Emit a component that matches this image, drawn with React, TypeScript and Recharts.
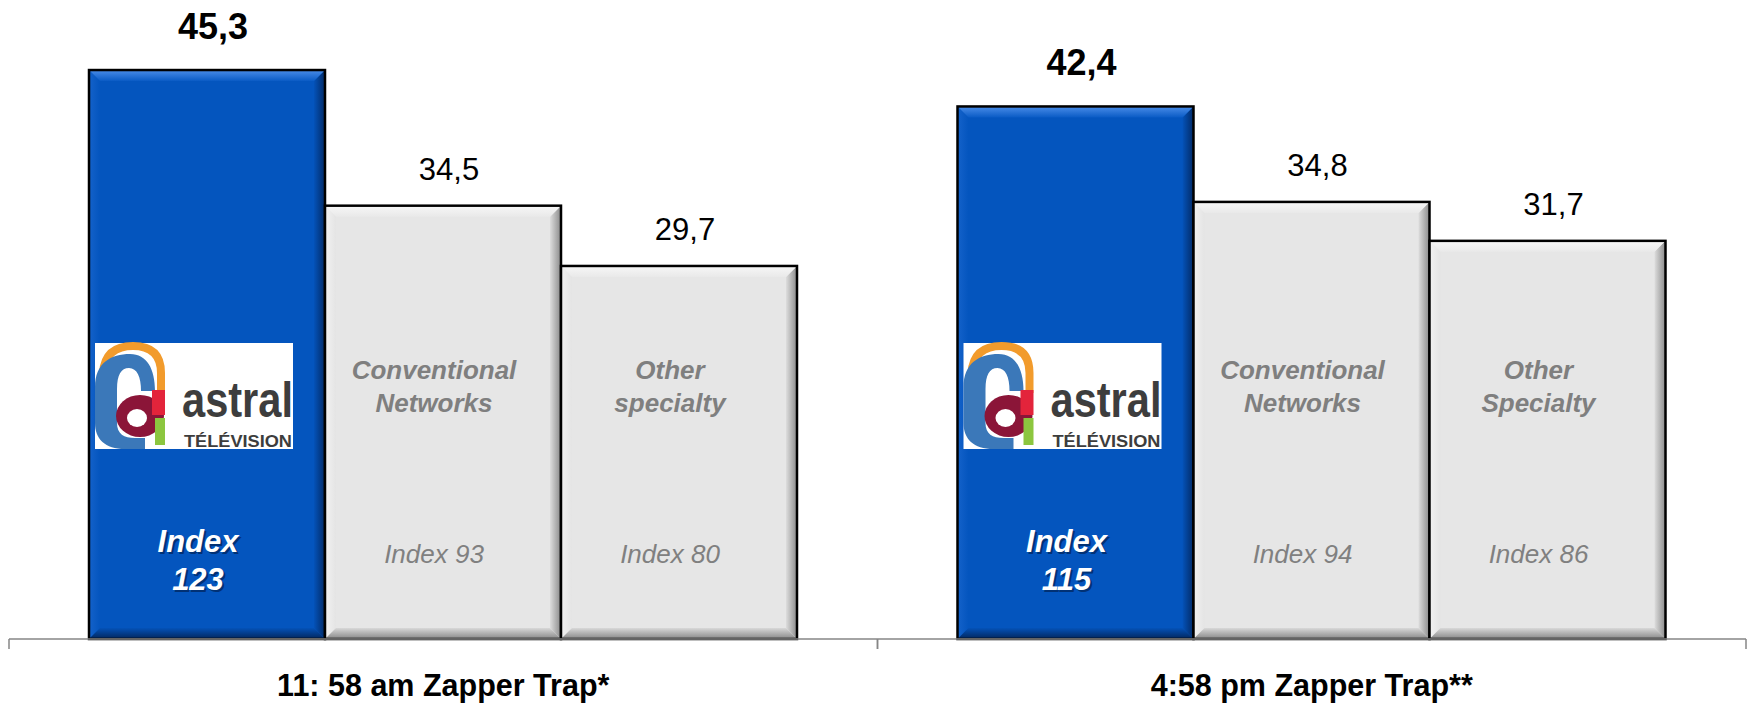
import React from 'react';
import { BarChart, Bar, XAxis, YAxis } from 'recharts';

const categories = ['11: 58 am Zapper Trap*', '4:58 pm Zapper Trap**'];
const astralValues = [45.3, 42.4];
const conventionalValues = [34.5, 34.8];
const otherValues = [29.7, 31.7];
const astralIndex = [123, 115];
const conventionalIndex = [93, 94];
const otherIndex = [80, 86];
const conventionalNames = [['Conventional', 'Networks'], ['Conventional', 'Networks']];
const otherNames = [['Other', 'specialty'], ['Other', 'Specialty']];

const data = categories.map((c, i) => ({
  category: c,
  astral: astralValues[i],
  conventional: conventionalValues[i],
  other: otherValues[i],
  astralIdx: astralIndex[i],
  convIdx: conventionalIndex[i],
  otherIdx: otherIndex[i],
  convName: conventionalNames[i],
  otherName: otherNames[i],
}));

const W = 1748;
const H = 703;
const M = { top: 11, right: 2, left: 9, bottom: 0 };
const PLOT_W = W - M.left - M.right;
const FONT = '"Liberation Sans", Arial, Helvetica, sans-serif';

const PAL: Record<string, any> = {
  blue: {
    base: '#0455BE',
    top: ['#4A8DE8', '#0A5BC5'],
    right: ['#0452B8', '#022A66'],
    bottom: ['#0452B8', '#02265C'],
    left: ['#1462CA', '#0455BE'],
  },
  gray: {
    base: '#E6E6E6',
    top: ['#F7F7F7', '#E9E9E9'],
    right: ['#DDDDDD', '#8A8A8A'],
    bottom: ['#D8D8D8', '#878787'],
    left: ['#F2F2F2', '#E4E4E4'],
  },
};

const fmt = (v: number) => v.toFixed(1).replace('.', ',');

function Logo({ x, y }: { x: number; y: number }) {
  return (
    <g transform={`translate(${x},${y})`}>
      <rect x={0} y={0} width={198} height={106} fill="#FFFFFF" />
      <path d="M8,30 Q10,3 38,3 Q66,3 66,30 L66,50" stroke="#F29B2C" strokeWidth={8} fill="none" />
      <path
        d="M0,44 C0,20 16,11 35,11 C52,11 60,26 60,48 L46,48 C46,34 42,25 34,25 C26,25 22,32 22,46 L22,80 C22,91 29,95 40,95 L50,95 L50,106 L30,106 C10,106 0,96 0,80 Z"
        fill="#3B78B9"
      />
      <ellipse cx={45} cy={73} rx={24} ry={21} fill="#8B1538" />
      <ellipse cx={42} cy={75} rx={10} ry={9} fill="#FFFFFF" />
      <rect x={57} y={47} width={13} height={25} fill="#E3243B" />
      <rect x={60} y={75} width={10} height={27} fill="#8CC63F" />
      <text
        x={87}
        y={74}
        fontSize={50}
        fontWeight="bold"
        fill="#3D3D3D"
        fontFamily={FONT}
        textLength={111}
        lengthAdjust="spacingAndGlyphs"
      >
        astral
      </text>
      <text
        x={89}
        y={104}
        fontSize={17}
        fontWeight="bold"
        fill="#3D3D3D"
        fontFamily={FONT}
        textLength={108}
        lengthAdjust="spacingAndGlyphs"
      >
        TÉLÉVISION
      </text>
    </g>
  );
}

function BevelBar(props: any) {
  const { x, y, width: w, height: h, payload, index, kind } = props;
  if (w == null || h == null) return null;
  const p = kind === 'astral' ? 'blue' : 'gray';
  const pal = PAL[p];
  const b = Math.min(11, w / 2, h / 2);
  const id = `${kind}-${index}`;
  const base = y + h;
  const cx = x + w / 2;
  const value = payload[kind];
  const isAstral = kind === 'astral';
  const tx = cx - 9;
  return (
    <g>
      <defs>
        <linearGradient id={`t-${id}`} x1="0" y1="0" x2="0" y2="1">
          <stop offset="0" stopColor={pal.top[0]} />
          <stop offset="1" stopColor={pal.top[1]} />
        </linearGradient>
        <linearGradient id={`r-${id}`} x1="0" y1="0" x2="1" y2="0">
          <stop offset="0" stopColor={pal.right[0]} />
          <stop offset="1" stopColor={pal.right[1]} />
        </linearGradient>
        <linearGradient id={`b-${id}`} x1="0" y1="0" x2="0" y2="1">
          <stop offset="0" stopColor={pal.bottom[0]} />
          <stop offset="1" stopColor={pal.bottom[1]} />
        </linearGradient>
        <linearGradient id={`l-${id}`} x1="0" y1="0" x2="1" y2="0">
          <stop offset="0" stopColor={pal.left[0]} />
          <stop offset="1" stopColor={pal.left[1]} />
        </linearGradient>
      </defs>
      <rect x={x} y={y} width={w} height={h} fill={pal.base} />
      <polygon points={`${x},${y} ${x + b},${y + b} ${x + b},${base - b} ${x},${base}`} fill={`url(#l-${id})`} />
      <polygon points={`${x + w},${y} ${x + w},${base} ${x + w - b},${base - b} ${x + w - b},${y + b}`} fill={`url(#r-${id})`} />
      <polygon points={`${x},${base} ${x + w},${base} ${x + w - b},${base - b} ${x + b},${base - b}`} fill={`url(#b-${id})`} />
      <polygon points={`${x},${y} ${x + w},${y} ${x + w - b},${y + b} ${x + b},${y + b}`} fill={`url(#t-${id})`} />
      <rect x={x} y={y} width={w} height={h} fill="none" stroke="#000000" strokeWidth={2.5} />

      <text
        x={cx + 6}
        y={isAstral ? y - 31 : y - 26}
        textAnchor="middle"
        fontFamily={FONT}
        fontSize={isAstral ? 36 : 31}
        fontWeight={isAstral ? 'bold' : 'normal'}
        fill="#000000"
      >
        {fmt(value)}
      </text>

      {isAstral ? (
        <g>
          <Logo x={x + 6} y={base - 296} />
          {[
            ['Index', 87],
            [String(payload.astralIdx), 49],
          ].map(([t, dy]) => (
            <g key={String(t)}>
              <text x={tx + 2} y={base - (dy as number) + 2} textAnchor="middle" fontFamily={FONT} fontSize={31} fontWeight="bold" fontStyle="italic" fill="#001A45" opacity={0.6}>
                {t}
              </text>
              <text x={tx} y={base - (dy as number)} textAnchor="middle" fontFamily={FONT} fontSize={31} fontWeight="bold" fontStyle="italic" fill="#FFFFFF">
                {t}
              </text>
            </g>
          ))}
        </g>
      ) : (
        <g>
          {(kind === 'conventional' ? payload.convName : payload.otherName).map((t: string, i: number) => (
            <text key={i} x={tx} y={base - (i === 0 ? 260 : 227)} textAnchor="middle" fontFamily={FONT} fontSize={26} fontWeight="bold" fontStyle="italic" fill="#7F7F7F">
              {t}
            </text>
          ))}
          <text x={tx} y={base - 76} textAnchor="middle" fontFamily={FONT} fontSize={26} fontStyle="italic" fill="#808080">
            {`Index ${kind === 'conventional' ? payload.convIdx : payload.otherIdx}`}
          </text>
        </g>
      )}
    </g>
  );
}

function CategoryTick(props: any) {
  const { x, y, payload } = props;
  const half = PLOT_W / categories.length / 2;
  return (
    <g>
      <line x1={x - half} x2={x - half} y1={y} y2={y + 10} stroke="#868686" strokeWidth={1.5} />
      <line x1={x + half} x2={x + half} y1={y} y2={y + 10} stroke="#868686" strokeWidth={1.5} />
      <text x={x} y={y + 57} textAnchor="middle" fontFamily={FONT} fontSize={30.5} fontWeight="bold" fill="#000000">
        {payload.value}
      </text>
    </g>
  );
}

export default function App() {
  return (
    <div style={{ position: 'absolute', left: 0, top: 0, width: W, height: H, background: '#FFFFFF' }}>
      <BarChart width={W} height={H} data={data} margin={M} barGap={0} barCategoryGap={80}>
        <XAxis
          dataKey="category"
          height={64}
          tickLine={false}
          tickSize={0}
          tickMargin={0}
          axisLine={{ stroke: '#868686', strokeWidth: 1.5 }}
          tick={<CategoryTick />}
          interval={0}
        />
        <YAxis hide domain={[0, 50]} />
        <Bar dataKey="astral" isAnimationActive={false} shape={(p: any) => <BevelBar {...p} kind="astral" />} />
        <Bar dataKey="conventional" isAnimationActive={false} shape={(p: any) => <BevelBar {...p} kind="conventional" />} />
        <Bar dataKey="other" isAnimationActive={false} shape={(p: any) => <BevelBar {...p} kind="other" />} />
      </BarChart>
    </div>
  );
}
